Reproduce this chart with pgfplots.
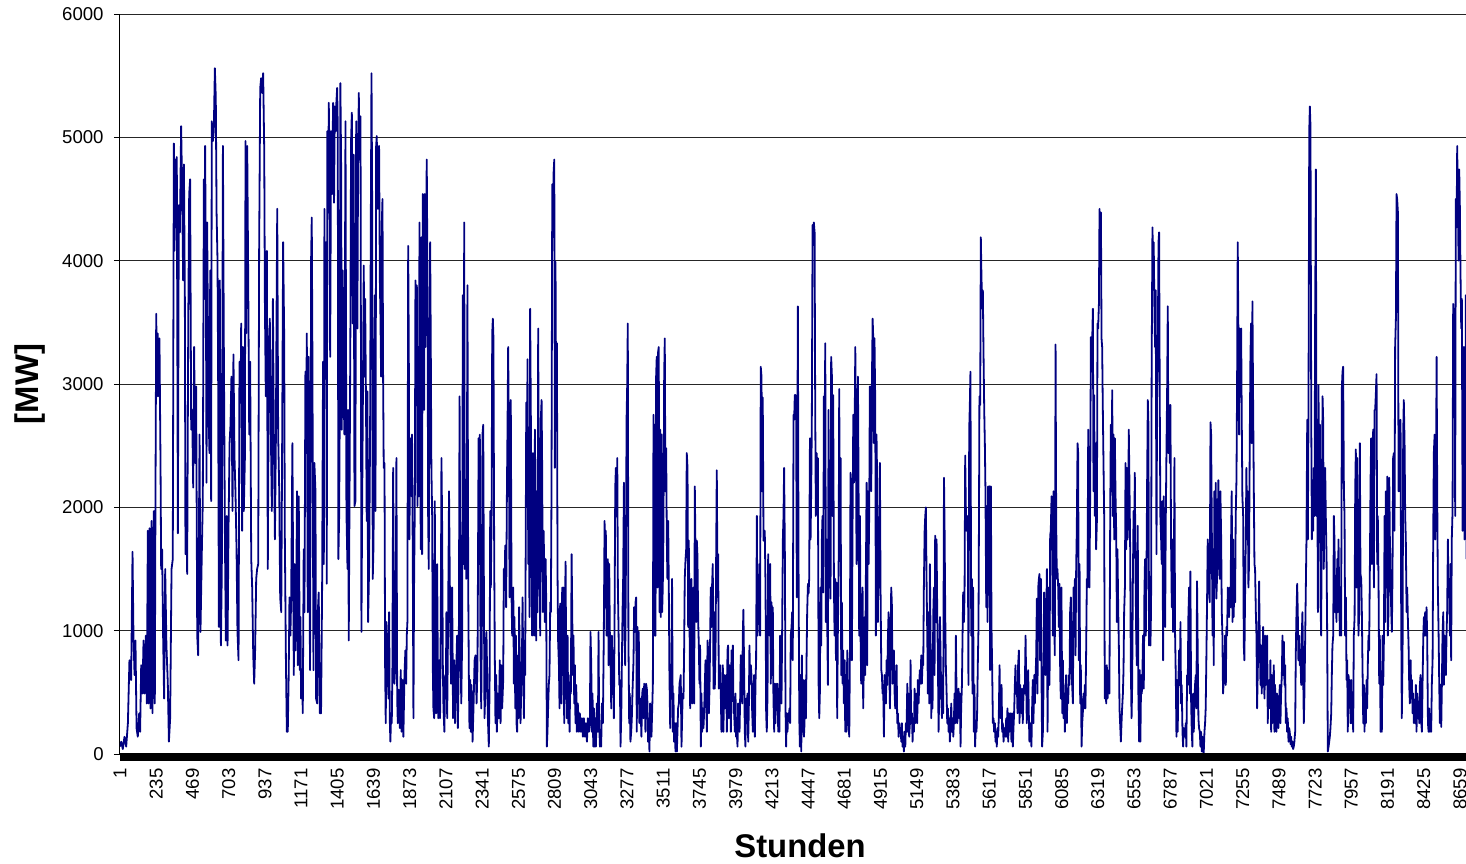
\documentclass[border=0pt]{standalone}
\usepackage{pgfplots}
\pgfplotsset{compat=1.18}
\usepackage{fontspec}
\setmainfont{Liberation Sans}
\definecolor{navy}{RGB}{0,0,128}
\begin{document}
\begin{tikzpicture}
\begin{axis}[
  name=ax, at={(0,0)}, anchor=south west,
  scale only axis, width=673pt, height=370pt,
  xmin=1, xmax=8698, ymin=0, ymax=6000,
  axis lines=left, axis line style={-, black, line width=0.5pt},
  x axis line style={draw=none},
  xtick={1,235,469,703,937,1171,1405,1639,1873,2107,2341,2575,2809,3043,3277,3511,3745,3979,4213,4447,4681,4915,5149,5383,5617,5851,6085,6319,6553,6787,7021,7255,7489,7723,7957,8191,8425,8659},
  ytick={0,1000,2000,3000,4000,5000,6000},
  ymajorgrids, grid style={black!85, line width=0.5pt},
  tick align=outside, major tick length=3pt,
  xtick style={draw=none},
  ytick style={black, line width=0.5pt},
  scaled ticks=false,
  /pgf/number format/1000 sep={},
  /pgf/number format/assume math mode=true,
  tick label style={font=\fontsize{9.3}{11}\selectfont},
  yticklabel style={anchor=east, inner sep=0pt, xshift=-5pt},
  xticklabel style={rotate=90, anchor=east, inner sep=0pt, xshift=-4pt},
  xlabel={Stunden}, ylabel={[MW]},
  label style={font=\fontsize{16.4}{19}\selectfont\bfseries},
  xlabel style={at={(axis description cs:0,0)}, anchor=center, xshift=340pt, yshift=-46pt},
  ylabel style={at={(axis description cs:0,0.5)}, anchor=center, yshift=45pt},
]
\addplot[color=navy, line width=0.9pt, line join=round, mark=none] coordinates {
(1,60)(9,100)(19,40)(30,140)(41,60)(52,250)(62,760)(73,600)(82,1640)(88,960)(95,640)(101,920)(108,210)(116,140)(125,330)(131,180)(138,720)(146,490)(153,920)(159,490)(168,960)(174,410)(181,1810)(185,410)(192,1830)(198,370)(205,1890)(211,330)(220,1970)(226,410)(230,2010)(235,3570)(241,2900)(245,3410)(252,2900)(256,3370)(263,2320)(267,1500)(273,1660)(280,920)(286,450)(293,1500)(301,880)(310,570)(317,100)(325,290)(334,1500)(342,1580)(349,4950)(353,4080)(360,4820)(364,4270)(368,4840)(375,1790)(381,4450)(388,4230)(396,5090)(403,4540)(409,3840)(414,4780)(420,3720)(424,1620)(429,2240)(435,1460)(442,3490)(448,4540)(454,4660)(461,2630)(467,2790)(474,2160)(480,3300)(487,2360)(493,2980)(500,960)(506,800)(515,2590)(521,990)(530,1660)(536,2050)(543,4660)(547,3690)(551,4930)(556,3880)(560,2200)(564,4310)(569,3490)(573,2790)(579,2440)(584,3920)(590,2050)(594,5130)(601,4970)(607,5050)(614,5560)(620,5320)(625,4390)(631,4000)(635,3100)(640,1030)(646,3840)(653,880)(659,1500)(666,4930)(672,3300)(679,1740)(685,920)(691,1930)(696,880)(702,1810)(709,2520)(715,2670)(721,3060)(728,1970)(734,3240)(741,2400)(747,2130)(754,1660)(760,990)(767,760)(773,3180)(780,2870)(784,3490)(790,1810)(795,3300)(801,1970)(808,2400)(812,4970)(816,3410)(823,4930)(829,3920)(836,2590)(842,3180)(849,1580)(855,1350)(862,800)(868,570)(874,840)(881,1420)(887,1500)(894,1540)(900,4080)(907,5400)(913,5480)(920,5360)(926,5520)(933,4890)(937,3690)(943,2900)(950,4080)(956,1500)(963,3220)(969,3530)(976,2590)(982,1970)(989,3690)(995,2590)(1002,1740)(1008,2520)(1012,3450)(1017,4420)(1023,2590)(1030,2130)(1036,1270)(1043,1150)(1049,2590)(1055,4150)(1062,3370)(1066,1770)(1073,760)(1079,180)
(1085,180)(1091,640)(1096,1270)(1102,960)(1107,1270)(1115,2520)(1119,1620)(1124,640)(1128,1540)(1135,840)(1141,1540)(1145,2130)(1150,720)(1156,2090)(1163,680)(1167,1110)(1171,450)(1178,640)(1182,330)(1188,1660)(1193,1150)(1199,3100)(1203,2440)(1208,3410)(1214,1150)(1219,3220)(1223,1930)(1229,680)(1236,4030)(1240,4350)(1244,3300)(1251,680)(1257,2360)(1264,2130)(1268,450)(1275,410)(1279,1150)(1285,1310)(1292,330)(1300,330)(1307,1350)(1313,3180)(1318,1540)(1322,4420)(1326,3060)(1333,4150)(1337,1380)(1341,5050)(1346,4390)(1350,5280)(1354,4860)(1359,3220)(1365,5050)(1371,4540)(1378,5280)(1384,4470)(1389,5250)(1395,5050)(1399,5280)(1404,5400)(1408,5090)(1412,1580)(1417,1930)(1421,2790)(1425,5440)(1430,4740)(1434,2630)(1440,3920)(1447,2870)(1451,2590)(1458,5130)(1464,1970)(1471,1500)(1475,2790)(1479,920)(1483,1850)(1490,3530)(1494,4970)(1499,5200)(1505,3490)(1511,4860)(1516,2010)(1522,2050)(1527,5130)(1531,4470)(1535,3450)(1539,4740)(1544,5360)(1548,4820)(1555,5170)(1561,990)(1565,1890)(1572,3180)(1576,3960)(1580,3060)(1585,3690)(1591,2750)(1595,1890)(1600,2940)(1604,1070)(1611,1540)(1617,2630)(1621,4150)(1626,5520)(1630,4540)(1634,1420)(1639,1690)(1643,2590)(1647,3720)(1652,1970)(1656,4930)(1660,5010)(1667,4420)(1671,4470)(1675,4930)(1680,3840)(1684,3530)(1688,3060)(1692,4270)(1697,4500)(1701,3060)(1705,2320)(1710,2360)(1714,720)(1718,250)(1723,1070)(1727,910)(1731,640)(1736,450)(1740,1150)(1744,290)(1748,100)(1753,330)(1757,250)(1761,680)(1766,2320)(1770,1350)(1774,570)(1781,760)(1787,2400)(1792,450)(1796,250)(1802,520)(1809,210)(1815,680)(1820,180)(1826,600)(1832,140)(1839,640)(1845,840)(1850,570)(1854,960)(1858,1070)(1863,4120)(1867,3300)(1871,1740)(1876,2560)(1880,2520)(1884,2090)(1888,2590)(1893,1540)(1897,290)(1901,1350)(1906,2050)(1910,3840)(1914,3490)(1919,3800)(1923,2010)(1927,3300)(1932,2090)(1936,4310)(1940,3610)(1944,1660)(1949,4190)(1953,1620)(1957,4540)(1962,3690)(1966,2790)(1970,4540)(1975,3300)(1979,4270)(1983,4820)(1988,3760)(1992,1930)(1996,1500)(2000,3060)(2005,4150)(2009,3330)(2013,2320)(2018,1930)(2022,720)(2026,370)(2031,290)(2035,2050)(2039,760)(2044,330)(2050,1540)(2057,290)(2063,760)(2069,290)(2074,1150)(2078,2400)(2082,1930)(2087,720)(2091,370)(2097,180)(2102,640)(2106,450)(2110,1150)(2115,290)(2121,1070)(2127,2130)(2134,1110)(2140,570)(2147,1350)(2153,290)(2160,760)(2166,250)(2173,640)(2179,960)
(2184,210)(2190,720)(2195,2900)(2201,960)(2206,410)(2212,960)(2216,3720)(2221,1540)(2225,4310)(2229,1500)(2234,2130)(2238,1420)(2242,2050)(2246,3800)(2251,1350)(2255,640)(2259,210)(2264,600)(2268,180)(2272,560)(2279,100)(2285,370)(2292,760)(2298,800)(2305,410)(2311,720)(2318,2560)(2322,1540)(2326,2590)(2330,880)(2335,370)(2339,1030)(2343,2590)(2348,2670)(2352,1420)(2356,290)(2363,560)(2369,990)(2374,560)(2378,290)(2384,60)(2389,560)(2393,1970)(2397,1350)(2402,1930)(2406,3410)(2410,3530)(2414,3370)(2419,1540)(2423,760)(2427,250)(2432,640)(2436,180)(2442,490)(2449,290)(2455,760)(2460,250)(2466,720)(2470,370)(2477,600)(2481,1500)(2486,1350)(2490,1690)(2496,1190)(2501,2130)(2505,2670)(2509,3300)(2514,2520)(2518,1270)(2522,2710)(2526,2870)(2531,1270)(2535,960)(2542,1350)(2546,570)(2550,1110)(2555,370)(2559,960)(2563,250)(2567,180)(2572,800)(2576,290)(2580,1190)(2585,640)(2589,250)(2593,490)(2598,760)(2602,1270)(2606,760)(2611,290)(2615,920)(2619,640)(2626,2850)(2630,2130)(2634,3200)(2639,1540)(2643,1930)(2647,1110)(2651,3610)(2656,2670)(2660,1540)(2664,960)(2669,2440)(2673,2130)(2677,960)(2682,2630)(2686,1810)(2690,920)(2694,2130)(2699,1150)(2703,3450)(2707,2130)(2712,1740)(2716,960)(2720,2710)(2725,2870)(2729,2280)(2733,1150)(2738,1810)(2742,1540)(2746,1070)(2751,1580)(2755,1230)(2759,60)(2763,180)(2768,410)(2772,570)(2776,640)(2781,1230)(2785,1150)(2789,2130)(2794,4620)(2798,4190)(2802,4700)(2807,4820)(2811,2320)(2815,3990)(2819,2790)(2824,3330)(2828,1470)(2832,910)(2837,720)(2841,370)(2845,1220)(2850,640)(2854,410)(2858,1350)(2863,640)(2867,1350)(2871,250)(2876,1150)(2880,1560)(2884,720)(2888,290)(2893,960)(2897,250)(2901,560)(2906,180)(2910,640)(2914,490)(2919,1620)(2923,1150)(2927,640)(2931,960)(2936,410)(2940,720)(2944,250)(2949,560)(2953,180)(2959,410)(2966,180)(2972,330)(2979,180)(2985,290)(2992,140)(2998,290)(3005,140)(3011,250)(3018,100)(3024,290)(3031,180)(3037,250)(3041,990)(3046,720)(3050,180)(3054,490)(3059,60)(3063,370)(3067,60)(3071,290)(3076,60)(3082,410)(3089,180)(3093,990)(3097,250)(3102,60)(3106,100)(3110,60)(3115,410)(3121,250)(3127,960)(3132,1890)(3136,1190)(3140,1810)(3145,960)(3149,1310)(3153,1580)(3158,720)(3162,1540)(3166,990)(3171,720)(3175,370)(3179,960)(3184,600)(3188,760)(3192,290)(3196,960)(3201,2160)(3205,2320)(3209,1930)(3214,2400)(3218,1350)(3222,1030)(3227,560)(3231,600)(3235,60)(3240,330)(3244,760)(3248,1150)(3252,1420)(3257,2200)(3261,960)(3265,720)(3270,1540)(3274,2710)(3278,2980)
(3282,3490)(3286,960)(3291,250)(3295,490)(3299,100)(3304,180)(3308,290)(3312,490)(3319,760)(3323,1190)(3327,990)(3332,1230)(3336,1270)(3340,180)(3344,1030)(3349,410)(3353,990)(3357,250)(3362,450)(3366,330)(3370,140)(3375,490)(3379,530)(3383,290)(3388,570)(3392,450)(3396,180)(3400,570)(3405,530)(3409,410)(3413,100)(3418,180)(3422,20)(3426,410)(3431,250)(3435,140)(3439,330)(3444,570)(3448,2750)(3452,960)(3456,2670)(3461,960)(3465,3060)(3469,3220)(3474,1350)(3478,3260)(3482,3300)(3487,1150)(3491,2630)(3495,1110)(3500,2590)(3504,1150)(3508,1350)(3512,1740)(3517,3060)(3521,3370)(3525,2130)(3530,2480)(3534,1740)(3538,1420)(3543,1890)(3547,1350)(3551,640)(3556,210)(3560,570)(3564,640)(3568,1420)(3573,180)(3577,490)(3581,100)(3586,250)(3590,20)(3594,250)(3599,20)(3603,180)(3607,370)(3612,410)(3616,570)(3620,600)(3624,640)(3629,60)(3633,290)(3637,490)(3642,450)(3646,840)(3650,1420)(3655,1580)(3659,1650)(3663,2440)(3668,2320)(3672,1030)(3676,1730)(3680,1230)(3685,370)(3689,1350)(3693,1420)(3698,410)(3702,1110)(3706,1350)(3711,410)(3715,2170)(3719,1690)(3724,1070)(3728,1730)(3732,1610)(3737,1070)(3741,880)(3745,570)(3749,880)(3754,60)(3758,490)(3762,180)(3767,370)(3771,210)(3775,330)(3780,570)(3784,760)(3788,490)(3793,180)(3797,920)(3801,840)(3806,330)(3810,530)(3814,920)(3818,1350)(3823,1030)(3827,1380)(3831,1540)(3836,530)(3840,1150)(3844,530)(3849,840)(3853,1620)(3857,2300)(3862,1270)(3866,1620)(3870,530)(3874,680)(3879,720)(3883,490)(3887,180)(3892,210)(3896,720)(3900,180)(3905,640)(3909,370)(3913,450)(3918,640)(3922,180)(3926,840)(3930,880)(3935,290)(3939,720)(3943,640)(3948,180)(3952,840)(3956,640)(3961,880)(3965,330)(3969,330)(3974,180)(3978,490)(3982,140)(3986,180)(3991,60)(3995,410)(3999,330)(4004,180)(4008,450)(4012,800)(4017,760)(4021,410)(4025,960)(4029,1170)(4034,640)(4038,180)(4042,60)(4047,450)(4051,250)(4055,490)(4060,100)(4064,370)(4068,880)(4073,570)(4077,720)(4081,640)(4085,370)(4090,180)(4094,490)(4098,640)(4103,140)(4107,570)(4111,760)(4116,1930)(4120,960)(4124,1110)(4129,1070)(4133,1540)(4137,960)(4141,3140)(4146,3060)(4150,2130)(4154,2890)(4159,1730)(4163,1810)(4167,1810)(4172,1350)(4176,330)(4180,180)(4185,490)(4189,1620)(4193,1350)(4198,960)(4202,1540)(4206,570)(4211,1230)(4215,640)(4219,1190)(4223,450)(4228,180)(4232,570)(4236,250)(4241,570)(4245,410)(4249,570)(4254,180)(4258,530)(4262,180)(4266,960)(4271,570)(4275,410)(4279,960)(4284,1740)(4288,1930)(4292,2320)(4297,1610)(4301,370)(4305,60)(4309,330)(4314,180)(4318,330)(4322,290)(4327,370)(4331,250)(4335,960)(4340,1030)(4344,1150)(4348,760)(4353,2750)(4357,2710)(4361,2910)(4366,2910)(4370,2710)(4374,1270)
(4381,3630)(4385,1620)(4390,290)(4394,60)(4398,640)(4403,20)(4407,800)(4411,180)(4415,600)(4420,140)(4424,250)(4428,600)(4433,290)(4437,760)(4441,1150)(4446,1380)(4450,1300)(4454,1420)(4459,2560)(4463,1740)(4467,2130)(4471,2670)(4476,4290)(4480,4230)(4484,4310)(4489,4230)(4493,2790)(4497,1930)(4502,2440)(4506,1970)(4510,2400)(4515,560)(4519,290)(4523,490)(4527,1350)(4532,880)(4536,1740)(4540,1930)(4545,1310)(4549,2900)(4553,2520)(4558,3330)(4562,1070)(4566,1740)(4571,1030)(4575,560)(4579,2790)(4583,1350)(4588,2200)(4592,1260)(4596,3220)(4601,3060)(4605,1930)(4609,2910)(4614,1350)(4618,960)(4622,1420)(4627,760)(4631,1390)(4635,290)(4639,960)(4644,1420)(4648,2960)(4652,1930)(4657,2400)(4661,640)(4665,1230)(4670,570)(4674,840)(4678,410)(4683,760)(4687,180)(4691,640)(4695,180)(4700,840)(4704,410)(4708,250)(4713,140)(4717,800)(4721,2280)(4726,1930)(4730,760)(4734,1810)(4739,2750)(4743,2200)(4747,2520)(4752,3300)(4756,2590)(4760,1540)(4764,1810)(4769,3060)(4773,2200)(4777,960)(4782,1930)(4786,960)(4790,570)(4795,960)(4799,1350)(4803,370)(4808,800)(4812,1110)(4816,640)(4820,1380)(4825,2200)(4829,720)(4833,2130)(4838,1540)(4842,1970)(4846,2980)(4851,2670)(4855,2130)(4859,2980)(4864,3530)(4868,3370)(4872,2520)(4876,3370)(4881,2830)(4885,960)(4889,2590)(4894,2130)(4898,1070)(4902,1740)(4907,1350)(4911,2360)(4915,1350)(4920,680)(4924,640)(4928,490)(4932,560)(4937,140)(4941,640)(4945,490)(4950,410)(4954,760)(4958,560)(4963,960)(4967,1150)(4971,720)(4976,370)(4980,880)(4984,1350)(4988,1230)(4993,570)(4997,720)(5001,840)(5006,490)(5010,370)(5014,570)(5019,720)(5023,250)(5027,330)(5032,140)(5036,250)(5040,180)(5045,210)(5049,100)(5053,250)(5057,60)(5062,140)(5066,20)(5070,180)(5075,60)(5079,250)(5083,180)(5088,570)(5092,180)(5096,490)(5100,140)(5105,250)(5109,760)(5113,250)(5118,330)(5122,100)(5126,290)(5131,180)(5135,530)(5139,250)(5144,410)(5148,490)(5152,250)(5156,600)(5161,410)(5165,570)(5169,680)(5174,570)(5178,800)(5182,570)(5187,760)(5191,720)(5195,1350)(5200,1810)(5204,1930)(5208,2000)(5213,1350)(5217,960)(5221,490)(5225,1150)(5230,410)(5234,1540)(5238,960)(5243,290)(5247,840)(5251,370)(5256,1150)(5260,1350)(5264,640)(5268,1770)(5273,1070)(5277,1740)(5281,1190)(5286,720)(5290,180)(5294,490)(5299,1110)(5303,800)(5307,490)(5312,290)(5316,640)(5320,330)(5325,2240)(5329,1810)(5333,1150)(5337,720)(5342,490)(5346,250)(5350,370)(5355,180)(5359,290)(5363,100)(5368,250)(5372,410)(5376,180)(5381,290)(5385,140)(5389,250)(5393,490)(5398,250)(5402,960)(5406,490)(5411,250)(5415,410)(5419,530)(5424,290)(5428,490)(5432,60)(5436,370)(5441,560)(5445,960)(5449,1310)(5454,1070)(5458,1310)(5462,2420)(5467,1930)(5471,1810)(5475,1930)
(5479,1890)(5483,560)(5488,2630)(5492,2830)(5496,3100)(5501,960)(5505,1420)(5509,490)(5513,1350)(5518,180)(5522,560)(5526,60)(5531,250)(5535,180)(5539,330)(5544,760)(5548,1030)(5552,2200)(5554,2900)(5559,2830)(5563,4190)(5567,3880)(5572,3610)(5576,3760)(5580,3300)(5585,2790)(5589,2520)(5593,2130)(5598,1190)(5602,2010)(5606,1070)(5610,2170)(5615,1540)(5619,2170)(5623,680)(5628,2170)(5632,1030)(5636,720)(5641,250)(5645,290)(5649,180)(5654,250)(5658,100)(5662,180)(5666,60)(5671,210)(5675,140)(5679,290)(5684,720)(5688,370)(5692,290)(5697,560)(5701,180)(5705,250)(5710,100)(5714,210)(5718,180)(5722,140)(5727,290)(5731,140)(5735,370)(5740,100)(5744,330)(5748,180)(5753,330)(5757,250)(5761,100)(5765,330)(5770,60)(5774,210)(5778,330)(5783,560)(5787,720)(5791,490)(5796,560)(5800,330)(5804,720)(5809,840)(5813,250)(5817,560)(5821,410)(5826,330)(5830,530)(5834,250)(5839,490)(5843,560)(5847,490)(5852,960)(5856,600)(5860,250)(5865,560)(5869,680)(5873,330)(5877,100)(5882,250)(5886,180)(5890,60)(5895,410)(5899,600)(5903,250)(5908,640)(5912,410)(5916,600)(5921,800)(5925,1260)(5929,490)(5934,1350)(5938,1420)(5942,1460)(5946,760)(5951,1420)(5955,640)(5959,60)(5964,180)(5968,530)(5972,1310)(5977,1150)(5981,640)(5985,1030)(5990,1500)(5994,180)(5998,840)(6002,1350)(6007,560)(6011,1770)(6015,1810)(6020,2090)(6024,1730)(6028,960)(6033,2130)(6037,1150)(6041,800)(6046,3320)(6050,1890)(6054,1420)(6058,1500)(6063,1350)(6067,1030)(6071,1380)(6076,640)(6080,450)(6084,1350)(6089,330)(6093,760)(6097,290)(6102,490)(6106,180)(6110,530)(6114,640)(6119,250)(6123,530)(6127,410)(6132,640)(6136,560)(6140,1150)(6145,1270)(6149,680)(6153,560)(6158,410)(6162,1350)(6166,1110)(6171,1420)(6175,800)(6179,1500)(6183,1810)(6188,2520)(6192,2440)(6196,760)(6201,1540)(6205,410)(6209,720)(6214,60)(6218,250)(6222,330)(6227,490)(6231,370)(6235,560)(6239,370)(6244,880)(6248,1420)(6252,1350)(6257,2630)(6261,1930)(6265,1350)(6270,2170)(6274,3380)(6278,3100)(6283,3370)(6287,3610)(6291,2130)(6295,2910)(6300,1930)(6304,2520)(6308,1660)(6313,1890)(6317,3490)(6321,3450)(6326,3650)(6330,4420)(6334,4230)(6339,4390)(6343,3370)(6347,3300)(6351,2830)(6356,2320)(6360,1930)(6364,450)(6369,640)(6373,410)(6377,720)(6382,450)(6386,640)(6390,680)(6394,490)(6399,1930)(6403,2670)(6407,2130)(6412,2950)(6416,1930)(6420,2590)(6425,1740)(6429,2560)(6433,2130)(6438,1770)(6442,1070)(6446,1660)(6451,1150)(6455,870)(6459,370)(6463,250)(6468,100)(6472,250)(6476,370)(6481,490)(6485,680)(6489,1150)(6494,1350)(6498,2360)(6502,1660)(6507,2320)(6511,1740)(6515,1890)(6519,2630)(6524,2130)(6528,1660)(6532,720)(6537,290)(6541,560)(6545,1350)(6550,1970)(6554,1740)(6558,2280)(6562,1540)(6567,960)(6571,720)
(6577,1850)(6581,490)(6586,100)(6590,680)(6594,100)(6599,640)(6603,490)(6607,640)(6611,960)(6616,530)(6620,1310)(6624,1580)(6629,960)(6633,1380)(6637,2130)(6642,2870)(6646,2670)(6650,880)(6655,960)(6659,880)(6663,1190)(6667,3180)(6672,4270)(6676,3990)(6680,4150)(6685,3570)(6689,3300)(6693,3760)(6698,1620)(6702,2910)(6706,3180)(6711,4150)(6715,4230)(6719,2910)(6723,1930)(6728,1740)(6732,1540)(6736,2050)(6741,760)(6745,2090)(6749,1350)(6754,1030)(6758,1890)(6762,2400)(6767,2980)(6771,3630)(6775,2440)(6779,2830)(6784,2360)(6788,2830)(6792,1740)(6797,1190)(6801,1740)(6805,990)(6810,1350)(6814,2400)(6818,990)(6823,600)(6827,140)(6831,600)(6835,180)(6840,600)(6844,840)(6848,560)(6853,1070)(6857,410)(6861,560)(6866,180)(6870,60)(6874,210)(6879,180)(6883,140)(6887,250)(6891,60)(6896,640)(6900,560)(6904,1110)(6909,1350)(6913,490)(6917,1480)(6922,410)(6926,180)(6930,60)(6935,490)(6939,180)(6943,410)(6947,560)(6952,640)(6956,370)(6960,1400)(6965,760)(6969,290)(6973,210)(6978,180)(6982,60)(6986,180)(6991,20)(6995,140)(6999,60)(7003,0)(7008,180)(7012,250)(7016,370)(7021,840)(7025,1260)(7029,1740)(7034,1580)(7038,1350)(7042,1230)(7047,2690)(7051,2590)(7055,1930)(7060,960)(7064,1660)(7068,720)(7072,2130)(7077,1350)(7081,2200)(7085,1260)(7090,1460)(7094,1850)(7098,2220)(7103,1540)(7107,1420)(7111,2130)(7116,1740)(7120,1150)(7124,960)(7128,490)(7133,600)(7137,640)(7141,960)(7146,560)(7150,1030)(7154,960)(7159,1350)(7163,1150)(7167,1110)(7172,1350)(7176,1190)(7180,1740)(7184,2130)(7189,1070)(7193,1740)(7197,1110)(7202,1580)(7206,1230)(7210,1930)(7215,2240)(7219,3060)(7223,4150)(7228,3300)(7232,2590)(7236,3450)(7240,2950)(7245,3450)(7249,2710)(7253,2090)(7258,1930)(7262,880)(7266,760)(7271,1350)(7275,1740)(7279,2320)(7284,1740)(7288,2130)(7292,1350)(7296,1540)(7301,2590)(7305,3220)(7309,3490)(7314,2520)(7318,3670)(7322,2910)(7327,2130)(7331,1540)(7335,1500)(7340,1150)(7344,960)(7348,370)(7352,640)(7357,960)(7361,1400)(7365,960)(7370,560)(7374,880)(7378,490)(7383,760)(7387,1030)(7391,640)(7396,450)(7400,960)(7404,560)(7409,760)(7413,960)(7417,250)(7421,490)(7426,600)(7430,370)(7434,760)(7439,180)(7443,640)(7447,250)(7452,490)(7456,720)(7460,180)(7464,560)(7469,250)(7473,180)(7477,490)(7482,330)(7486,210)(7490,410)(7495,560)(7499,250)(7503,490)(7508,640)(7512,960)(7516,640)(7521,910)(7525,560)(7529,720)(7534,250)(7538,370)(7542,180)(7546,290)(7551,100)(7555,210)(7559,180)(7564,80)(7568,140)(7572,60)(7577,100)(7581,40)(7585,60)(7589,100)(7594,180)(7598,800)(7602,1110)(7607,1380)(7611,1150)(7615,760)(7620,960)(7624,720)(7628,800)(7633,560)(7637,960)(7641,1150)(7646,640)(7650,250)(7654,490)(7659,960)(7663,1350)(7667,1740)(7672,2710)
(7676,1740)(7680,2710)(7685,5050)(7689,5250)(7693,5090)(7698,2710)(7702,1740)(7706,2220)(7710,1810)(7715,2320)(7719,1930)(7723,3530)(7728,4740)(7732,1930)(7736,2710)(7741,1150)(7745,2990)(7749,1740)(7754,2670)(7758,1230)(7762,960)(7766,1930)(7771,2900)(7775,2710)(7779,1500)(7784,2280)(7788,2320)(7792,1930)(7797,1580)(7801,960)(7805,20)(7810,60)(7814,100)(7818,140)(7822,210)(7827,330)(7831,640)(7835,880)(7840,960)(7844,1930)(7848,1740)(7853,1150)(7857,1270)(7861,1070)(7866,1580)(7870,1150)(7874,1740)(7878,1350)(7883,960)(7887,1270)(7891,960)(7896,2980)(7900,3100)(7904,3140)(7909,2130)(7913,1930)(7917,960)(7922,1270)(7926,600)(7930,760)(7934,180)(7939,640)(7943,490)(7947,600)(7952,250)(7956,600)(7960,250)(7965,410)(7969,180)(7973,960)(7978,1110)(7982,2130)(7986,2470)(7991,1350)(7995,2400)(7999,1740)(8003,960)(8008,1150)(8012,2520)(8016,1460)(8021,1420)(8025,1150)(8029,720)(8034,250)(8038,560)(8042,180)(8047,490)(8051,250)(8055,600)(8059,370)(8064,760)(8068,960)(8072,840)(8077,1540)(8081,2200)(8085,2560)(8090,1540)(8094,1930)(8098,2630)(8103,1350)(8107,2790)(8111,2790)(8115,2910)(8120,3080)(8124,1540)(8128,1930)(8133,1350)(8137,570)(8141,960)(8146,180)(8150,370)(8154,180)(8159,960)(8163,560)(8167,880)(8172,1930)(8176,1070)(8180,2130)(8184,1350)(8189,2250)(8193,960)(8197,1150)(8202,2240)(8206,1740)(8210,1420)(8215,1150)(8219,990)(8223,1460)(8227,2400)(8232,2440)(8236,1810)(8240,3300)(8245,3530)(8249,4540)(8253,4500)(8258,4390)(8262,2130)(8266,2630)(8271,2130)(8275,2710)(8279,1150)(8283,290)(8288,800)(8292,2590)(8296,2870)(8301,2520)(8305,1930)(8309,1740)(8314,1150)(8318,1350)(8322,1110)(8327,870)(8331,560)(8335,410)(8340,760)(8344,450)(8348,600)(8353,330)(8357,490)(8361,250)(8365,410)(8370,250)(8374,560)(8378,180)(8383,490)(8387,290)(8391,410)(8396,250)(8400,560)(8404,640)(8409,250)(8413,180)(8417,560)(8422,960)(8426,1110)(8430,960)(8434,1150)(8439,960)(8443,1190)(8447,960)(8452,250)(8456,180)(8460,370)(8465,180)(8469,250)(8473,180)(8477,560)(8482,760)(8486,1740)(8490,2440)(8495,2590)(8499,1740)(8503,2050)(8508,3220)(8512,2090)(8516,1350)(8521,960)(8525,560)(8529,250)(8533,560)(8538,220)(8542,560)(8546,960)(8551,1150)(8555,560)(8559,960)(8563,760)(8568,640)(8572,960)(8576,1150)(8581,1740)(8585,1270)(8589,1420)(8594,960)(8598,1540)(8602,760)(8606,1740)(8611,1970)(8615,3650)(8619,3300)(8624,3610)(8628,1930)(8632,4500)(8637,4270)(8641,4930)(8645,4460)(8650,4000)(8654,4740)(8658,4460)(8663,3840)(8667,3450)(8671,3690)(8676,1810)(8680,2520)(8684,3300)(8688,1740)(8693,2520)(8697,3720)(8702,1580)
};
\end{axis}
\fill[black] ([yshift=0.5pt]ax.south west) rectangle ([yshift=-3.5pt]ax.south east);
\pgfresetboundingbox
\path[use as bounding box] (-60pt,-54.5pt) rectangle (673pt,377pt);
\end{tikzpicture}
\end{document}
